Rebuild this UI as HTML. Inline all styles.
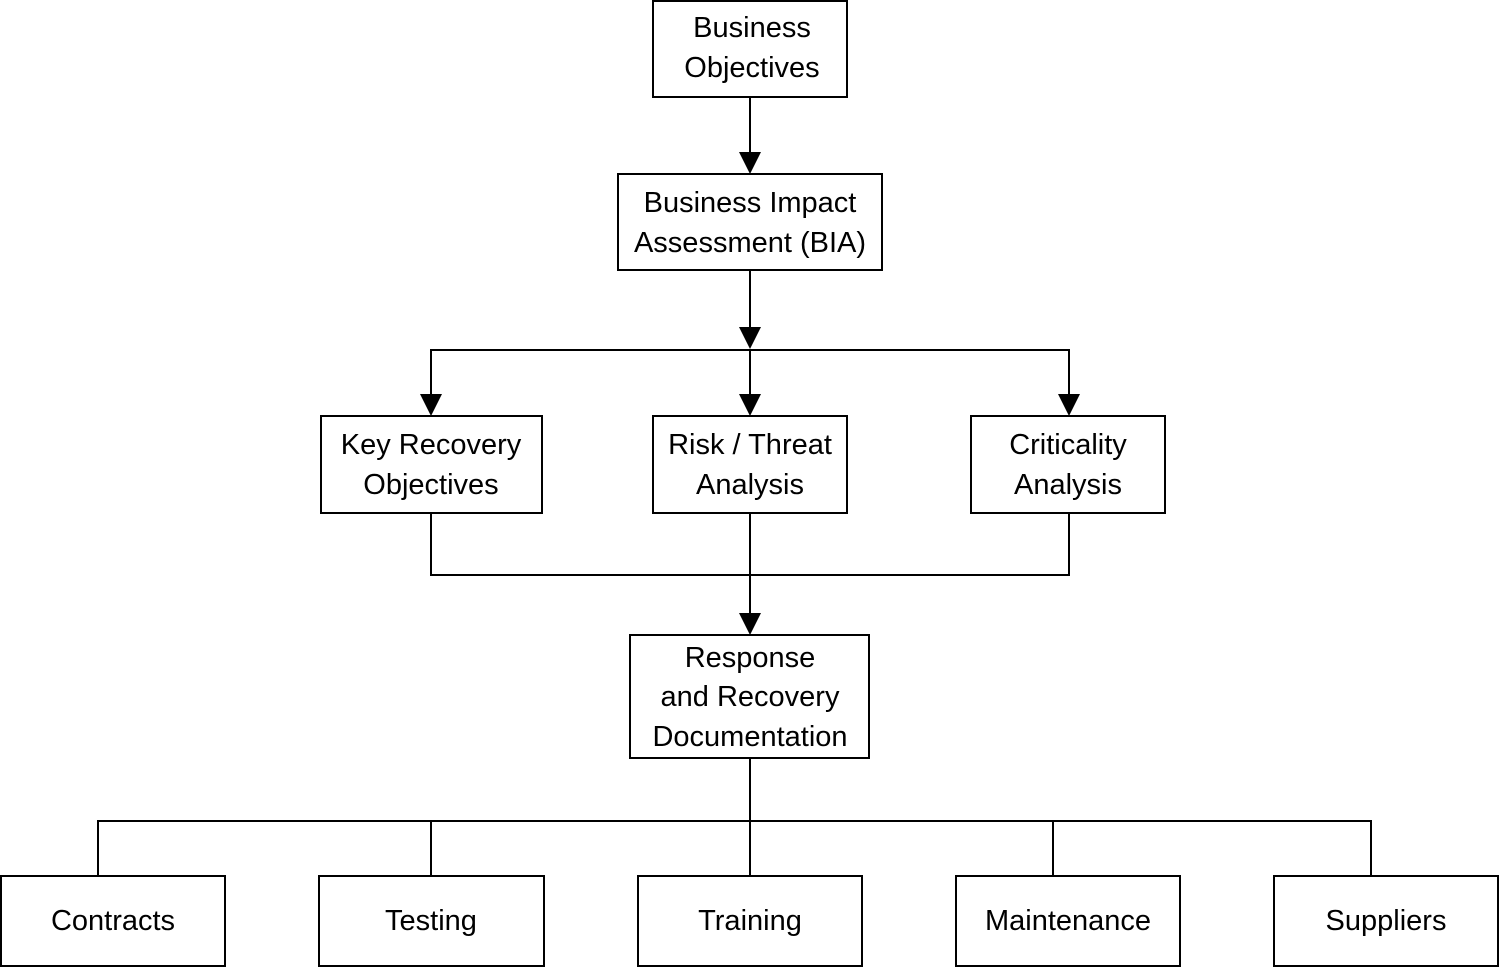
<!DOCTYPE html>
<html><head><meta charset="utf-8"><style>
html,body{margin:0;padding:0;background:#fff;width:1500px;height:968px;overflow:hidden}
text{font-family:"Liberation Sans",sans-serif;font-size:29px;fill:#000;text-anchor:middle}
</style></head><body>
<svg width="1500" height="968" viewBox="0 0 1500 968" xmlns="http://www.w3.org/2000/svg">
<g fill="none" stroke="#000" stroke-width="2" stroke-linecap="square" stroke-linejoin="miter">
<rect x="653" y="1" width="194" height="96"/>
<rect x="618" y="174" width="264" height="96"/>
<rect x="321" y="416" width="221" height="97"/>
<rect x="653" y="416" width="194" height="97"/>
<rect x="971" y="416" width="194" height="97"/>
<rect x="630" y="635" width="239" height="123"/>
<rect x="1" y="876" width="224" height="90"/>
<rect x="319" y="876" width="225" height="90"/>
<rect x="638" y="876" width="224" height="90"/>
<rect x="956" y="876" width="224" height="90"/>
<rect x="1274" y="876" width="224" height="90"/>
<path d="M750 97V154 M750 270V330 M431 396V350H1069V396 M750 350V396 M431 513V575H1069V513 M750 513V615 M750 758V821 M98 876V821H1371V876 M431 821V876 M750 821V876 M1053 821V876"/>
</g>
<g fill="#000">
<polygon points="739,152 761,152 750,174"/>
<polygon points="739,327 761,327 750,349"/>
<polygon points="420,394 442,394 431,416"/>
<polygon points="739,394 761,394 750,416"/>
<polygon points="1058,394 1080,394 1069,416"/>
<polygon points="739,613 761,613 750,635"/>
</g>
<text x="752" y="37">Business</text>
<text x="752" y="77">Objectives</text>
<text x="750" y="212">Business Impact</text>
<text x="750" y="252">Assessment (BIA)</text>
<text x="431" y="454">Key Recovery</text>
<text x="431" y="494">Objectives</text>
<text x="750" y="454">Risk / Threat</text>
<text x="750" y="494">Analysis</text>
<text x="1068" y="454">Criticality</text>
<text x="1068" y="494">Analysis</text>
<text x="750" y="667">Response</text>
<text x="750" y="706">and Recovery</text>
<text x="750" y="746">Documentation</text>
<text x="113" y="930">Contracts</text>
<text x="431" y="930">Testing</text>
<text x="750" y="930">Training</text>
<text x="1068" y="930">Maintenance</text>
<text x="1386" y="930">Suppliers</text>
</svg>
</body></html>
